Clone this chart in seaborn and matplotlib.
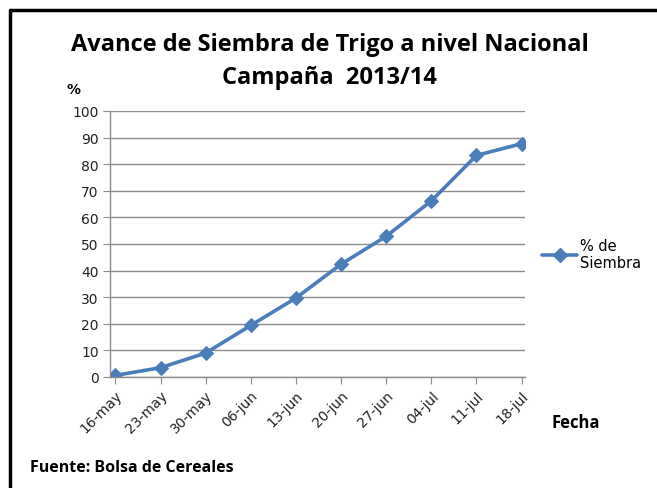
import matplotlib
matplotlib.use("Agg")
import matplotlib.pyplot as plt
import seaborn as sns
import pandas as pd
from matplotlib.lines import Line2D

fechas = ['16-may', '23-may', '30-may', '06-jun', '13-jun',
          '20-jun', '27-jun', '04-jul', '11-jul', '18-jul']
siembra = [0.6, 3.5, 9.0, 19.4, 29.7, 42.4, 52.9, 66.2, 83.3, 87.7]
y_ticks = list(range(0, 101, 10))

sns.set_style("white")
plt.rcParams['font.family'] = ['Open Sans', 'DejaVu Sans']
plt.rcParams['text.color'] = 'black'

BLUE = '#4A7EBB'

df = pd.DataFrame({'Fecha': fechas, 'Siembra': siembra})

fig = plt.figure(figsize=(6.57, 4.89), dpi=100)
ax = fig.add_axes([0.1674, 0.227, 0.632, 0.544])

sns.lineplot(data=df, x='Fecha', y='Siembra', ax=ax, color=BLUE,
             linewidth=2.6, marker='D', markersize=7, markeredgecolor=BLUE,
             sort=False)

ax.set_ylim(0, 100)
ax.set_xlim(-0.12, len(fechas) - 1 + 0.08)
ax.set_yticks(y_ticks)
ax.set_xticks(range(len(fechas)))
ax.set_xticklabels(fechas, rotation=45, ha='right', rotation_mode='anchor',
                   fontsize=10, family='DejaVu Sans', color='#222222')
ax.set_yticklabels([str(v) for v in y_ticks], fontsize=10,
                   family='DejaVu Sans', color='#222222')
ax.set_xlabel('')
ax.set_ylabel('')
ax.yaxis.grid(True, color='#8c8c8c', linewidth=1)
ax.set_axisbelow(True)
for s in ['top', 'right']:
    ax.spines[s].set_visible(False)
for s in ['left', 'bottom']:
    ax.spines[s].set_color('#8c8c8c')
    ax.spines[s].set_linewidth(1)
ax.tick_params(axis='both', which='major', length=5, color='#8c8c8c',
               direction='out', left=True, bottom=True, pad=3)

fig.text(0.502, 0.907, 'Avance de Siembra de Trigo a nivel Nacional',
         ha='center', va='center', fontsize=17, fontweight='bold')
fig.text(0.502, 0.840, 'Campaña  2013/14', ha='center', va='center',
         fontsize=17, fontweight='bold')
fig.text(0.112, 0.815, '%', ha='center', va='center', fontsize=10,
         fontweight='bold', family='DejaVu Sans')
fig.text(0.876, 0.135, 'Fecha', ha='center', va='center', fontsize=12,
         fontweight='bold')
fig.text(0.045, 0.042, 'Fuente: Bolsa de Cereales', ha='left', va='center',
         fontsize=11.5, fontweight='bold')

handle = Line2D([], [], color=BLUE, linewidth=2.6, marker='D', markersize=7)
fig.legend([handle], ['% de\nSiembra'], loc='center left',
           bbox_to_anchor=(0.805, 0.478), frameon=False,
           handlelength=2.4, handletextpad=0.2, labelspacing=0.3,
           prop={'family': 'DejaVu Sans', 'size': 10.5})

# marco negro superior e izquierdo
fig.add_artist(Line2D([0.0152, 0.0152], [0.0, 0.978], color='black',
                      linewidth=2.5, transform=fig.transFigure))
fig.add_artist(Line2D([0.0152, 1.0], [0.978, 0.978], color='black',
                      linewidth=2.5, transform=fig.transFigure))

plt.savefig('out.png', dpi=100)
